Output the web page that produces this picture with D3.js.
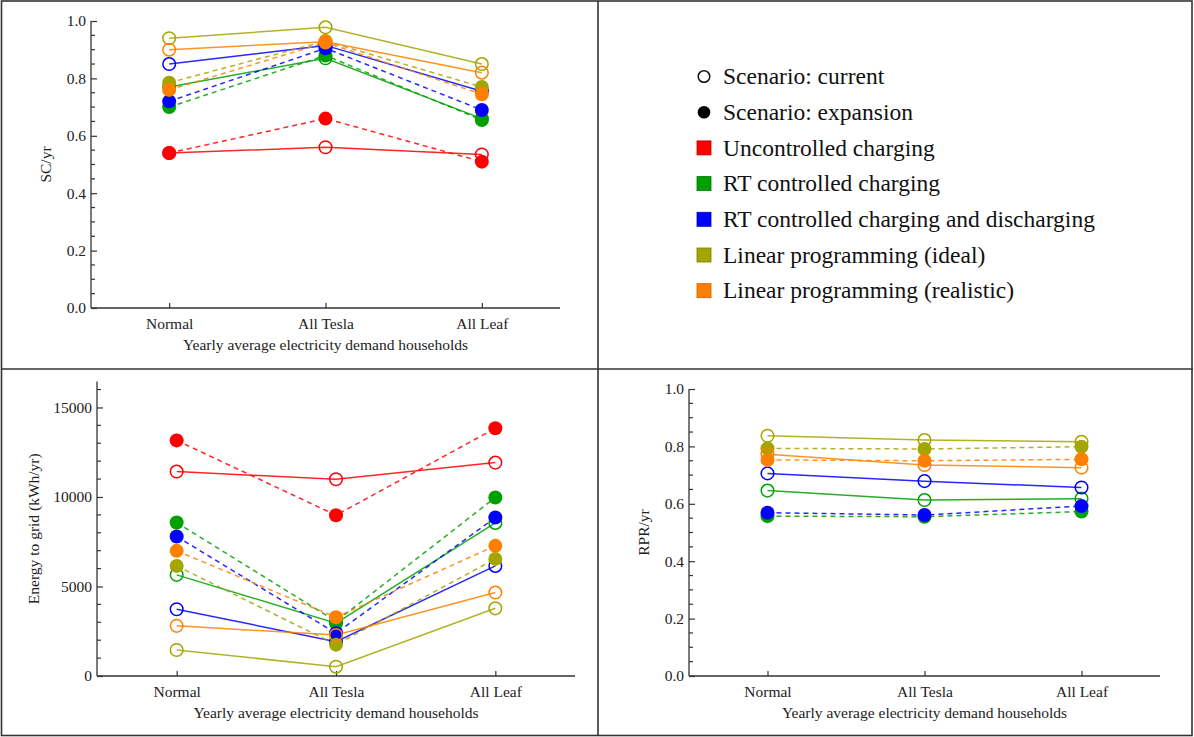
<!DOCTYPE html>
<html>
<head>
<meta charset="utf-8">
<script src="https://cdn.jsdelivr.net/npm/d3@7"></script>
<style>
  body { margin: 0; background: #fff; }
  svg text { font-family: "Liberation Serif", "Times New Roman", serif; }
</style>
</head>
<body>
<svg id="fig" width="1194" height="737"></svg>
<script>
// Data
var categories = ["Normal", "All Tesla", "All Leaf"];
var methods = ["Uncontrolled charging", "RT controlled charging",
  "RT controlled charging and discharging", "Linear programming (ideal)",
  "Linear programming (realistic)"];
var colors = ["#ff0000", "#00a000", "#0000ff", "#a5a500", "#ff8000"];

// SC/yr, one row per method (same order as methods)
var scCurrent = [
  [0.540, 0.560, 0.535],
  [0.770, 0.870, 0.660],
  [0.850, 0.915, 0.755],
  [0.940, 0.978, 0.850],
  [0.900, 0.928, 0.820]
];
var scExpansion = [
  [0.540, 0.660, 0.510],
  [0.700, 0.880, 0.655],
  [0.720, 0.905, 0.690],
  [0.785, 0.930, 0.770],
  [0.760, 0.925, 0.745]
];

// Energy to grid (kWh/yr)
var gridCurrent = [
  [11420, 10990, 11920],
  [5650, 2950, 8550],
  [3730, 1920, 6150],
  [1450, 520, 3780],
  [2800, 2290, 4660]
];
var gridExpansion = [
  [13160, 8980, 13840],
  [8570, 3050, 9970],
  [7790, 2390, 8850],
  [6150, 1750, 6540],
  [6990, 3280, 7270]
];

// RPR/yr (no uncontrolled charging series)
var rprCurrent = [
  null,
  [0.646, 0.613, 0.618],
  [0.706, 0.679, 0.657],
  [0.837, 0.822, 0.816],
  [0.773, 0.735, 0.726]
];
var rprExpansion = [
  null,
  [0.557, 0.555, 0.573],
  [0.569, 0.561, 0.592],
  [0.793, 0.791, 0.799],
  [0.753, 0.750, 0.755]
];

var serif = "'Liberation Serif', 'Times New Roman', serif";
var svg = d3.select("#fig");

// panel frame lines
var frame = svg.append("g").attr("stroke", "#333").attr("stroke-width", 1.6).attr("fill", "none");
frame.append("rect").attr("x", 1.5).attr("y", 1).attr("width", 1190.5).attr("height", 734.5);
frame.append("line").attr("x1", 598).attr("x2", 598).attr("y1", 1).attr("y2", 736);
frame.append("line").attr("x1", 1).attr("x2", 1193).attr("y1", 369).attr("y2", 369);

function drawPanel(p) {
  var x = d3.scalePoint().domain(categories).range([p.left, p.right]).padding(0.5);
  var y = d3.scaleLinear().domain([0, p.ymax]).range([p.bottom, p.top]);
  var g = svg.append("g");

  // y axis, ticks point inward
  var yAxis = d3.axisLeft(y).tickValues(p.major).tickSizeInner(-6).tickSizeOuter(0)
    .tickPadding(5).tickFormat(p.fmt);
  var ya = g.append("g").attr("transform", "translate(" + p.left + ",0)").call(yAxis);
  g.append("g").selectAll("line").data(p.minor).enter().append("line")
    .attr("x1", p.left).attr("x2", p.left + 4)
    .attr("y1", function(d) { return y(d); }).attr("y2", function(d) { return y(d); })
    .attr("stroke", "#333").attr("stroke-width", 1.2);
  ya.select(".domain").attr("stroke", "#333").attr("stroke-width", 1.3)
    .attr("d", "M0," + p.bottom + "V" + y(p.ymax));
  ya.selectAll(".tick line").attr("stroke", "#333").attr("stroke-width", 1.2);
  ya.selectAll(".tick text").attr("fill", "#222").style("font-size", "15.5px")
    .style("font-family", serif);

  // x axis
  var xAxis = d3.axisBottom(x).tickSizeInner(-5).tickSizeOuter(0).tickPadding(10);
  var xa = g.append("g").attr("transform", "translate(0," + p.bottom + ")").call(xAxis);
  xa.select(".domain").attr("stroke", "#333").attr("stroke-width", 1.3)
    .attr("d", "M" + p.left + ",0H" + p.right);
  xa.selectAll(".tick line").attr("stroke", "#333").attr("stroke-width", 1.2);
  xa.selectAll(".tick text").attr("fill", "#222").style("font-size", "15.5px")
    .style("font-family", serif);

  g.append("text")
    .attr("x", (p.left + p.right) / 2).attr("y", p.bottom + 42)
    .attr("text-anchor", "middle").attr("fill", "#222")
    .style("font-size", "15.5px").style("font-family", serif)
    .text("Yearly average electricity demand households");
  g.append("text")
    .attr("transform", "translate(" + p.titleX + "," + ((p.top + p.bottom) / 2) + ") rotate(-90)")
    .attr("text-anchor", "middle").attr("dominant-baseline", "central")
    .attr("fill", "#222").style("font-size", "15.5px").style("font-family", serif)
    .text(p.ylabel);

  var line = d3.line()
    .x(function(d, i) { return x(categories[i]); })
    .y(function(d) { return y(d); });

  // lines first
  methods.forEach(function(m, k) {
    if (p.current[k]) {
      g.append("path").datum(p.current[k]).attr("d", line)
        .attr("fill", "none").attr("stroke", colors[k]).attr("stroke-width", 1.5)
        .attr("stroke-opacity", 0.85);
    }
    if (p.expansion[k]) {
      g.append("path").datum(p.expansion[k]).attr("d", line)
        .attr("fill", "none").attr("stroke", colors[k]).attr("stroke-width", 1.5)
        .attr("stroke-dasharray", "5,4").attr("stroke-opacity", 0.85);
    }
  });

  // markers
  methods.forEach(function(m, k) {
    if (p.current[k]) {
      g.append("g").selectAll("circle").data(p.current[k]).enter().append("circle")
        .attr("cx", function(d, i) { return x(categories[i]); })
        .attr("cy", function(d) { return y(d); })
        .attr("r", 6.3).attr("fill", "none")
        .attr("stroke", colors[k]).attr("stroke-width", 1.5);
    }
    if (p.expansion[k]) {
      g.append("g").selectAll("circle").data(p.expansion[k]).enter().append("circle")
        .attr("cx", function(d, i) { return x(categories[i]); })
        .attr("cy", function(d) { return y(d); })
        .attr("r", 7).attr("fill", colors[k]);
    }
  });
}

var fmt1 = d3.format(".1f");
var minor01 = d3.range(1, 20).map(function(i) { return i * 0.05; })
  .filter(function(d, i) { return (i + 1) % 4 !== 0; });

drawPanel({
  left: 91, right: 560, top: 21, bottom: 308, ymax: 1, titleX: 45,
  major: [0, 0.2, 0.4, 0.6, 0.8, 1.0], minor: minor01,
  fmt: fmt1, ylabel: "SC/yr", current: scCurrent, expansion: scExpansion
});

drawPanel({
  left: 97, right: 575, top: 381.5, bottom: 676, ymax: 16450, titleX: 33,
  major: [0, 5000, 10000, 15000], minor: d3.range(1000, 16001, 1000).filter(function(d) { return d % 5000 !== 0; }),
  fmt: d3.format("d"), ylabel: "Energy to grid (kWh/yr)", current: gridCurrent, expansion: gridExpansion
});

drawPanel({
  left: 689, right: 1160, top: 389, bottom: 676, ymax: 1, titleX: 643,
  major: [0, 0.2, 0.4, 0.6, 0.8, 1.0], minor: minor01,
  fmt: fmt1, ylabel: "RPR/yr", current: rprCurrent, expansion: rprExpansion
});

// legend
var legendLabels = ["Scenario: current", "Scenario: expansion"].concat(methods);
var rows = svg.append("g").selectAll("g").data(legendLabels).enter().append("g")
  .attr("transform", function(d, i) { return "translate(704," + (76.5 + i * 35.7) + ")"; });
rows.each(function(d, i) {
  var r = d3.select(this);
  if (i === 0) {
    r.append("circle").attr("r", 5.8).attr("fill", "none").attr("stroke", "#111").attr("stroke-width", 1.5);
  } else if (i === 1) {
    r.append("circle").attr("r", 6.3).attr("fill", "#000");
  } else {
    r.append("rect").attr("x", -7).attr("y", -7).attr("width", 14).attr("height", 14)
      .attr("fill", colors[i - 2]).attr("stroke", d3.color(colors[i - 2]).darker(0.8)).attr("stroke-width", 0.8);
  }
  r.append("text").attr("x", 19).attr("dy", "0.33em")
    .attr("fill", "#111").style("font-size", "23.5px").style("font-family", serif).text(d);
});
</script>
</body>
</html>
